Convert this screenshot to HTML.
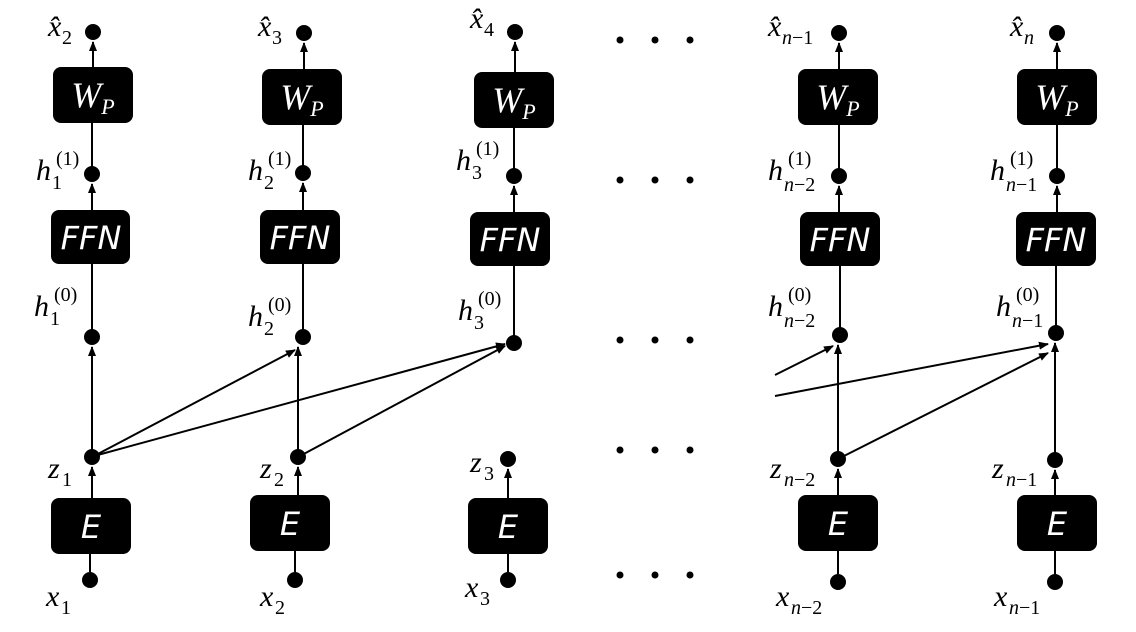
<!DOCTYPE html>
<html><head><meta charset="utf-8"><style>
html,body{margin:0;padding:0;background:#fff;}
svg{display:block;}
.l{font-family:"Liberation Serif",serif;font-style:italic;font-size:30px;fill:#000;}
.s{font-family:"Liberation Serif",serif;font-style:normal;font-size:20px;fill:#000;}
.si{font-family:"Liberation Serif",serif;font-style:italic;font-size:20px;fill:#000;}
.b{font-family:"DejaVu Sans","Liberation Sans",sans-serif;font-style:oblique;font-size:32px;fill:#fff;text-anchor:middle;}
.bs{font-family:"Liberation Serif",serif;font-style:italic;font-size:36px;fill:#fff;text-anchor:middle;}
.bss{font-size:22px;}
</style></head><body>
<svg width="1136" height="632" viewBox="0 0 1136 632" xmlns="http://www.w3.org/2000/svg">
<defs><marker id="a" markerWidth="10" markerHeight="10" refX="9" refY="5" orient="auto" markerUnits="userSpaceOnUse"><path d="M0,1 L10,5 L0,9 z" fill="#000"/></marker></defs>
<g stroke="#000" stroke-width="2" fill="none">
<line x1="90" y1="572" x2="90" y2="554"/><line x1="92" y1="498" x2="92" y2="467" marker-end="url(#a)"/>
<line x1="92" y1="450" x2="92" y2="347" marker-end="url(#a)"/><line x1="92" y1="330" x2="92" y2="264"/>
<line x1="92" y1="210" x2="92" y2="184" marker-end="url(#a)"/><line x1="92" y1="168" x2="92" y2="123"/>
<line x1="93" y1="67" x2="93" y2="42" marker-end="url(#a)"/>
<line x1="295" y1="572" x2="295" y2="551"/><line x1="298" y1="495" x2="298" y2="467" marker-end="url(#a)"/>
<line x1="298" y1="450" x2="298" y2="347" marker-end="url(#a)"/><line x1="303" y1="330" x2="303" y2="264"/>
<line x1="303" y1="210" x2="303" y2="183" marker-end="url(#a)"/><line x1="303" y1="167" x2="303" y2="125"/>
<line x1="304" y1="69" x2="304" y2="43" marker-end="url(#a)"/>
<line x1="508" y1="572" x2="508" y2="554"/><line x1="508" y1="498" x2="508" y2="469" marker-end="url(#a)"/>
<line x1="514" y1="336" x2="514" y2="266"/>
<line x1="514" y1="212" x2="514" y2="186" marker-end="url(#a)"/><line x1="514" y1="169" x2="514" y2="128"/>
<line x1="515" y1="72" x2="515" y2="42" marker-end="url(#a)"/>
<line x1="838" y1="574" x2="838" y2="551"/><line x1="838" y1="495" x2="838" y2="469" marker-end="url(#a)"/>
<line x1="838" y1="452" x2="838" y2="345" marker-end="url(#a)"/><line x1="840" y1="328" x2="840" y2="266"/>
<line x1="839" y1="212" x2="839" y2="186" marker-end="url(#a)"/><line x1="839" y1="169" x2="839" y2="125"/>
<line x1="839" y1="69" x2="839" y2="43" marker-end="url(#a)"/>
<line x1="1055" y1="574" x2="1055" y2="551"/><line x1="1055" y1="495" x2="1055" y2="470" marker-end="url(#a)"/>
<line x1="1055" y1="453" x2="1055" y2="343" marker-end="url(#a)"/><line x1="1056" y1="326" x2="1056" y2="266"/>
<line x1="1057" y1="212" x2="1057" y2="186" marker-end="url(#a)"/><line x1="1057" y1="169" x2="1057" y2="125"/>
<line x1="1057" y1="69" x2="1057" y2="43" marker-end="url(#a)"/>
<line x1="94" y1="456" x2="295" y2="350" marker-end="url(#a)"/>
<line x1="94" y1="456" x2="505" y2="344" marker-end="url(#a)"/>
<line x1="300" y1="456" x2="505" y2="346" marker-end="url(#a)"/>
<line x1="775" y1="375" x2="833" y2="346" marker-end="url(#a)"/>
<line x1="775" y1="396" x2="1048" y2="344" marker-end="url(#a)"/>
<line x1="840" y1="458" x2="1048" y2="353" marker-end="url(#a)"/>
</g>
<g fill="#000">
<circle cx="93" cy="32" r="8"/><circle cx="92" cy="174" r="8"/><circle cx="92" cy="337" r="8"/><circle cx="92" cy="457" r="8"/><circle cx="90" cy="580" r="8"/>
<circle cx="304" cy="33" r="8"/><circle cx="303" cy="173" r="8"/><circle cx="303" cy="337" r="8"/><circle cx="298" cy="457" r="8"/><circle cx="295" cy="580" r="8"/>
<circle cx="515" cy="32" r="8"/><circle cx="514" cy="176" r="8"/><circle cx="514" cy="343" r="8"/><circle cx="508" cy="459" r="8"/><circle cx="508" cy="580" r="8"/>
<circle cx="839" cy="33" r="8"/><circle cx="839" cy="176" r="8"/><circle cx="840" cy="335" r="8"/><circle cx="838" cy="459" r="8"/><circle cx="838" cy="582" r="8"/>
<circle cx="1057" cy="33" r="8"/><circle cx="1057" cy="176" r="8"/><circle cx="1056" cy="333" r="8"/><circle cx="1055" cy="460" r="8"/><circle cx="1055" cy="582" r="8"/>
<circle cx="620" cy="40" r="3.5"/><circle cx="655" cy="40" r="3.5"/><circle cx="690" cy="40" r="3.5"/>
<circle cx="620" cy="180" r="3.5"/><circle cx="655" cy="180" r="3.5"/><circle cx="690" cy="180" r="3.5"/>
<circle cx="620" cy="340" r="3.5"/><circle cx="655" cy="340" r="3.5"/><circle cx="690" cy="340" r="3.5"/>
<circle cx="620" cy="450" r="3.5"/><circle cx="655" cy="450" r="3.5"/><circle cx="690" cy="450" r="3.5"/>
<circle cx="620" cy="575" r="3.5"/><circle cx="655" cy="575" r="3.5"/><circle cx="690" cy="575" r="3.5"/>
<rect x="53" y="67" width="80" height="56" rx="8"/><rect x="51" y="210" width="79" height="54" rx="8"/><rect x="51" y="498" width="80" height="56" rx="8"/>
<rect x="262" y="69" width="80" height="56" rx="8"/><rect x="260" y="210" width="80" height="54" rx="8"/><rect x="250" y="495" width="80" height="56" rx="8"/>
<rect x="474" y="72" width="80" height="56" rx="8"/><rect x="470" y="212" width="80" height="54" rx="8"/><rect x="468" y="498" width="80" height="56" rx="8"/>
<rect x="798" y="69" width="80" height="56" rx="8"/><rect x="800" y="212" width="80" height="54" rx="8"/><rect x="798" y="495" width="80" height="56" rx="8"/>
<rect x="1017" y="69" width="80" height="56" rx="8"/><rect x="1016" y="212" width="80" height="54" rx="8"/><rect x="1017" y="495" width="80" height="56" rx="8"/>
</g>
<g>
<text class="bs" x="93" y="107">W<tspan class="bss" dy="7">P</tspan></text>
<text class="bs" x="302" y="109">W<tspan class="bss" dy="7">P</tspan></text>
<text class="bs" x="514" y="112">W<tspan class="bss" dy="7">P</tspan></text>
<text class="bs" x="838" y="109">W<tspan class="bss" dy="7">P</tspan></text>
<text class="bs" x="1057" y="109">W<tspan class="bss" dy="7">P</tspan></text>
<text class="b" x="91" y="249">FFN</text><text class="b" x="300" y="249">FFN</text><text class="b" x="510" y="251">FFN</text><text class="b" x="840" y="251">FFN</text><text class="b" x="1056" y="251">FFN</text>
<text class="b" x="91" y="538">E</text><text class="b" x="290" y="535">E</text><text class="b" x="508" y="538">E</text><text class="b" x="838" y="535">E</text><text class="b" x="1057" y="535">E</text>
</g>
<g class="l">
<text x="48" y="36">x̂</text><text class="s" x="62" y="44">2</text>
<text x="258" y="36">x̂</text><text class="s" x="272" y="44">3</text>
<text x="470" y="28">x̂</text><text class="s" x="484" y="36">4</text>
<text x="768" y="36">x̂</text><text class="si" x="782" y="44">n<tspan class="s">−1</tspan></text>
<text x="1010" y="36">x̂</text><text class="si" x="1024" y="44">n</text>

<text x="36" y="180">h</text><text class="s" x="56" y="165">(1)</text><text class="s" x="52" y="189">1</text>
<text x="248" y="180">h</text><text class="s" x="268" y="165">(1)</text><text class="s" x="264" y="189">2</text>
<text x="456" y="170">h</text><text class="s" x="476" y="155">(1)</text><text class="s" x="472" y="179">3</text>
<text x="768" y="180">h</text><text class="s" x="788" y="165">(1)</text><text class="si" x="784" y="191">n<tspan class="s">−2</tspan></text>
<text x="990" y="180">h</text><text class="s" x="1010" y="165">(1)</text><text class="si" x="1006" y="191">n<tspan class="s">−1</tspan></text>

<text x="34" y="316">h</text><text class="s" x="54" y="301">(0)</text><text class="s" x="50" y="325">1</text>
<text x="248" y="326">h</text><text class="s" x="268" y="311">(0)</text><text class="s" x="264" y="335">2</text>
<text x="458" y="320">h</text><text class="s" x="478" y="305">(0)</text><text class="s" x="474" y="329">3</text>
<text x="768" y="316">h</text><text class="s" x="788" y="301">(0)</text><text class="si" x="784" y="327">n<tspan class="s">−2</tspan></text>
<text x="996" y="316">h</text><text class="s" x="1016" y="301">(0)</text><text class="si" x="1012" y="327">n<tspan class="s">−1</tspan></text>

<text x="48" y="478">z</text><text class="s" x="62" y="486">1</text>
<text x="260" y="478">z</text><text class="s" x="274" y="486">2</text>
<text x="470" y="472">z</text><text class="s" x="484" y="480">3</text>
<text x="770" y="478">z</text><text class="si" x="784" y="486">n<tspan class="s">−2</tspan></text>
<text x="992" y="478">z</text><text class="si" x="1006" y="486">n<tspan class="s">−1</tspan></text>

<text x="46" y="606">x</text><text class="s" x="61" y="614">1</text>
<text x="260" y="606">x</text><text class="s" x="275" y="614">2</text>
<text x="465" y="597">x</text><text class="s" x="480" y="605">3</text>
<text x="776" y="606">x</text><text class="si" x="791" y="614">n<tspan class="s">−2</tspan></text>
<text x="994" y="606">x</text><text class="si" x="1009" y="614">n<tspan class="s">−1</tspan></text>
</g>
</svg>
</body></html>
